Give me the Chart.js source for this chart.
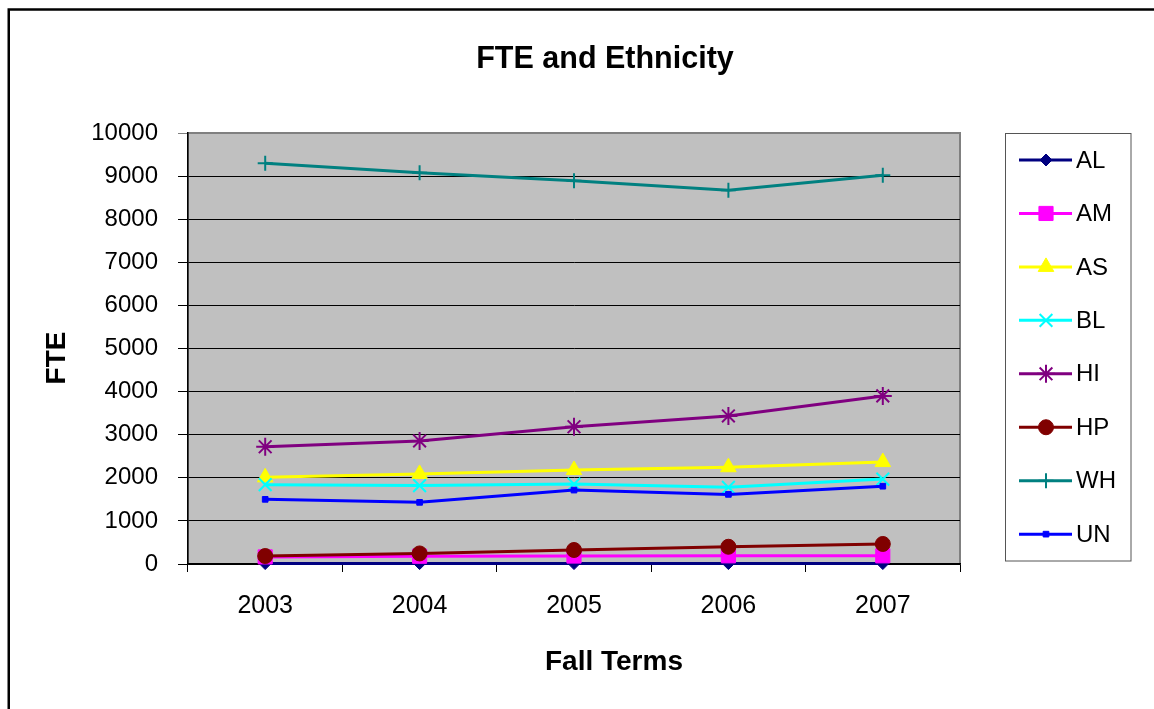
<!DOCTYPE html>
<html>
<head>
<meta charset="utf-8">
<script src="https://cdn.jsdelivr.net/npm/chart.js@4/dist/chart.umd.min.js"></script>
<style>
html,body{margin:0;padding:0;background:#fff;}
canvas{display:block;}
</style>
</head>
<body>
<canvas id="c" width="1154" height="709"></canvas>
<script>
const TITLE = 'FTE and Ethnicity';
const X_TITLE = 'Fall Terms';
const Y_TITLE = 'FTE';
const categories = ['2003', '2004', '2005', '2006', '2007'];
const AL = [10, 10, 10, 10, 10];
const AM = [165, 180, 185, 190, 190];
const AS = [2010, 2090, 2180, 2245, 2365];
const BL = [1840, 1820, 1855, 1780, 1970];
const HI = [2720, 2855, 3185, 3435, 3900];
const HP = [185, 245, 325, 400, 465];
const WH = [9300, 9080, 8890, 8670, 9020];
const UN = [1500, 1430, 1715, 1615, 1805];
const yTicks = [0, 1000, 2000, 3000, 4000, 5000, 6000, 7000, 8000, 9000, 10000];

const FONT = "'Liberation Sans', Arial, sans-serif";

const seriesDefs = [
  {label: 'AL', data: AL, color: '#000080', style: 'rectRot', r: 6, bw: 1},
  {label: 'AM', data: AM, color: '#FF00FF', style: 'rect', r: 10, bw: 1},
  {label: 'AS', data: AS, color: '#FFFF00', style: 'triangle', r: 9, bw: 1},
  {label: 'BL', data: BL, color: '#00FFFF', style: 'crossRot', r: 9, bw: 2},
  {label: 'HI', data: HI, color: '#800080', style: 'star', r: 9, bw: 2},
  {label: 'HP', data: HP, color: '#800000', style: 'circle', r: 7.5, bw: 1},
  {label: 'WH', data: WH, color: '#008080', style: 'cross', r: 7.5, bw: 2},
  {label: 'UN', data: UN, color: '#0000FF', style: 'rect', r: 4, bw: 1}
];

const datasets = seriesDefs.map((s, i) => ({
  label: s.label,
  data: s.data,
  borderColor: s.color,
  backgroundColor: s.color,
  borderWidth: 3,
  pointStyle: s.style,
  pointRadius: s.r,
  pointHoverRadius: s.r,
  pointBorderWidth: s.bw,
  pointBorderColor: s.color,
  pointBackgroundColor: s.color,
  tension: 0,
  clip: false,
  order: seriesDefs.length - i
}));

function drawMarker(ctx, style, r, bw, x, y) {
  if (Chart.helpers && Chart.helpers.drawPoint) {
    Chart.helpers.drawPoint(ctx, {pointStyle: style, radius: r, borderWidth: bw, rotation: 0}, x, y);
    return;
  }
  ctx.beginPath();
  ctx.arc(x, y, r, 0, Math.PI * 2);
  ctx.fill();
}

const framePlugin = {
  id: 'frame',
  beforeDraw(chart) {
    const {ctx, chartArea: a} = chart;
    ctx.save();
    ctx.fillStyle = '#fff';
    ctx.fillRect(0, 0, chart.width, chart.height);
    ctx.fillStyle = '#C0C0C0';
    ctx.fillRect(a.left, a.top, a.right - a.left, a.bottom - a.top);
    ctx.strokeStyle = '#808080';
    ctx.lineWidth = 2;
    ctx.strokeRect(a.left, a.top, a.right - a.left, a.bottom - a.top);
    ctx.restore();
  },
  afterDraw(chart) {
    const {ctx} = chart;
    ctx.save();
    // outer border
    ctx.strokeStyle = '#000';
    ctx.lineWidth = 2.5;
    ctx.beginPath();
    ctx.moveTo(8.75, chart.height + 5);
    ctx.lineTo(8.75, 9.5);
    ctx.lineTo(chart.width + 5, 9.5);
    ctx.stroke();
    // titles
    ctx.fillStyle = '#000';
    ctx.textAlign = 'center';
    ctx.textBaseline = 'middle';
    ctx.font = 'bold 30.5px ' + FONT;
    ctx.fillText(TITLE, 605, 60);
    ctx.font = 'bold 28px ' + FONT;
    ctx.fillText(X_TITLE, 614, 662);
    ctx.save();
    ctx.translate(57, 358);
    ctx.rotate(-Math.PI / 2);
    ctx.fillText(Y_TITLE, 0, 0);
    ctx.restore();
    // legend
    ctx.strokeStyle = '#555';
    ctx.lineWidth = 1;
    ctx.strokeRect(1005.5, 133.5, 125.5, 427.5);
    ctx.textAlign = 'left';
    ctx.font = '24px ' + FONT;
    seriesDefs.forEach((s, i) => {
      const y = 160 + i * 53.45;
      ctx.strokeStyle = s.color;
      ctx.fillStyle = s.color;
      ctx.lineWidth = 3;
      ctx.beginPath();
      ctx.moveTo(1019, y);
      ctx.lineTo(1072, y);
      ctx.stroke();
      ctx.lineWidth = s.bw;
      drawMarker(ctx, s.style, s.r, s.bw, 1046, y);
      ctx.fillStyle = '#000';
      ctx.fillText(s.label, 1076, y + 1);
    });
    ctx.restore();
  }
};

new Chart(document.getElementById('c'), {
  type: 'line',
  data: {labels: categories, datasets: datasets},
  plugins: [framePlugin],
  options: {
    responsive: false,
    animation: false,
    events: [],
    layout: {padding: {top: 133, right: 194, left: 0, bottom: 0}},
    plugins: {
      legend: {display: false},
      title: {display: false, text: TITLE},
      tooltip: {enabled: false}
    },
    scales: {
      x: {
        type: 'category',
        offset: true,
        title: {display: false, text: X_TITLE},
        grid: {offset: true, drawOnChartArea: false, drawTicks: true, tickLength: 8, color: '#000', lineWidth: 1},
        border: {display: true, color: '#000', width: 1.5},
        ticks: {color: '#000', padding: 19, font: {family: FONT, size: 25}, maxRotation: 0},
        afterFit(scale) { scale.height = 145; }
      },
      y: {
        min: 0,
        max: 10000,
        title: {display: false, text: Y_TITLE},
        afterBuildTicks(scale) { scale.ticks = yTicks.map(v => ({value: v})); },
        grid: {
          drawTicks: true,
          tickLength: 10,
          color: (c) => (c.tick && c.tick.value === 10000) ? '#808080' : '#000',
          lineWidth: 1
        },
        border: {display: true, color: '#000', width: 1.5},
        ticks: {color: '#000', padding: 20, font: {family: FONT, size: 24}, callback: (v) => String(v)},
        afterFit(scale) { scale.width = 188; }
      }
    }
  }
});
</script>
</body>
</html>
